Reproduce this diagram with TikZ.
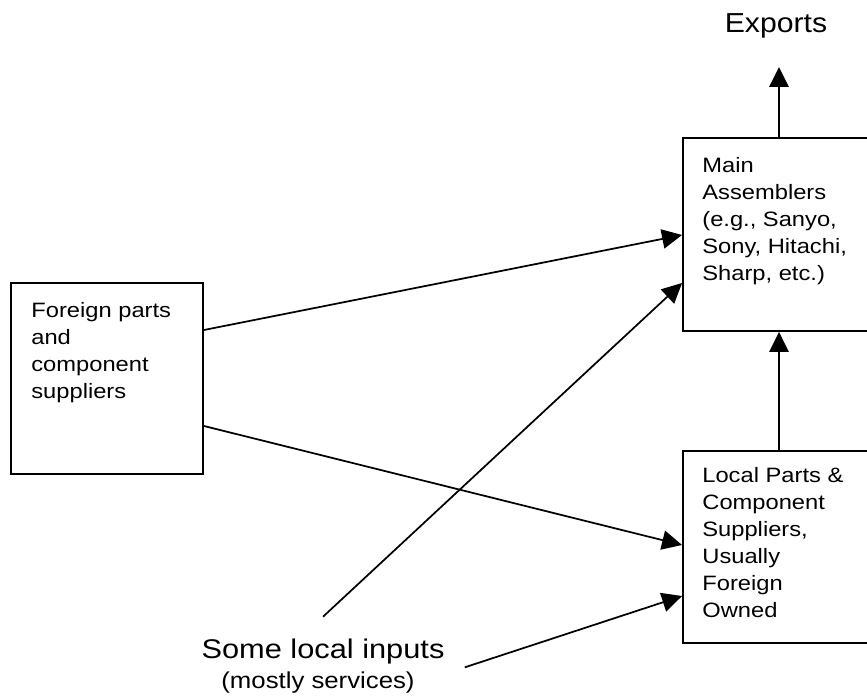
\documentclass[tikz,border=0pt]{standalone}
\usepackage{fontspec}
\setmainfont{Liberation Sans}
\usepackage{tikz}
\usetikzlibrary{arrows.meta,positioning,calc}

\begin{document}
\begin{tikzpicture}[x=0.75pt,y=0.75pt,yscale=-1,xscale=1,
  box/.style={draw, line width=1.4pt, inner sep=0pt, minimum width=144pt},
  boxtext/.style={anchor=north west, inner sep=0pt, align=left, xscale=1.14,
    font=\fontsize{15.6}{20.25}\selectfont},
  arr/.style={line width=1.3pt, -{Triangle[length=15pt,width=14.5pt]}}]
\clip (0,0) rectangle (867,698);

%Shape: Rectangle [foreign suppliers]
\node[box, minimum height=143.25pt] (foreign) at (107,378.5) {};
%Shape: Rectangle [main assemblers]
\node[box, minimum height=144.75pt] (main) at (779,234.5) {};
%Shape: Rectangle [local suppliers]
\node[box, minimum height=144pt] (local) at (779,547) {};

% Text Node
\node[boxtext, below right=15pt and 15.75pt of foreign.north west] (foreigntxt)
  {Foreign parts\\and\\component\\suppliers};
% Text Node
\node[boxtext, below right=15pt and 15pt of main.north west] (maintxt)
  {Main\\Assemblers\\(e.g., Sanyo,\\Sony, Hitachi,\\Sharp, etc.)};
% Text Node
\node[boxtext, below right=12.75pt and 15pt of local.north west] (localtxt)
  {Local Parts \&\\Component\\Suppliers,\\Usually\\Foreign\\Owned};
% Text Node
\node[anchor=base, xscale=1.1, font=\fontsize{20.6}{24}\selectfont] (exports) at (776,33) {Exports};
% Text Node
\node[anchor=base, xscale=1.14, font=\fontsize{20.25}{24}\selectfont] (inputs) at (323,658) {Some local inputs};
% Text Node
\node[anchor=base, xscale=1.12, font=\fontsize{17.25}{20}\selectfont] (services) at (318,688) {(mostly services)};

\coordinate (exptip) at (779,67);

%Straight Lines
\draw[arr] (foreign.east |- 0,330) -- (main.west |- 0,235);
\draw[arr] (foreign.east |- 0,426) -- (local.west |- 0,545);
\draw[arr] ($(inputs.north)+(0,-17)$) -- (main.west |- 0,283);
\draw[arr] ($(inputs.south east)+(15,-1)$) -- (local.west |- 0,596);
\draw[arr] (local.north) -- (main.south);
\draw[arr] (main.north) -- (exptip);

\end{tikzpicture}
\end{document}
